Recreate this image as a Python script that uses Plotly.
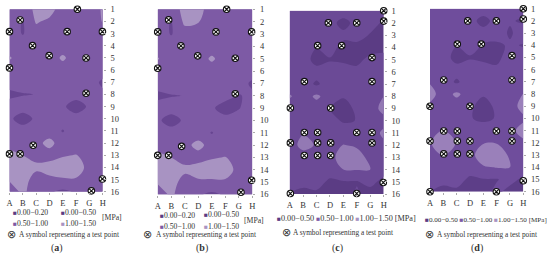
import plotly.graph_objects as go

rows = list(range(1, 17))
cols = ["A", "B", "C", "D", "E", "F", "G", "H"]

# pressure grids [MPa], one row per test row 1-16, columns A-H
panel_a = [
    [.75, .75, 1.1, 1.2, .75, .75, .75, 1.05],
    [.75, .47, 1.05, .9, .75, .75, .75, 1.02],
    [.75, .47, .8, .75, .75, .75, .75, .85],
    [.75, .75, .75, .75, .75, .75, .75, .75],
    [1.05, .75, .75, .75, 1.08, .75, .47, .75],
    [.75, .75, .75, .75, .75, .75, .75, .75],
    [.75, .75, .75, .75, .75, .75, .75, .4],
    [.36, .47, .51, .75, .75, .75, .75, .6],
    [.75, .75, .75, .75, .6, .2, .6, .75],
    [.6, .25, .6, .75, .75, .75, .75, .75],
    [.75, .75, .75, .75, .47, .75, .75, .75],
    [.75, .75, .85, 1.15, .75, .75, .75, .75],
    [1.2, 1.0, .85, .8, .95, 1.02, .8, .75],
    [1.3, 1.2, 1.1, 1.2, 1.3, 1.3, .8, .75],
    [1.05, 1.2, .8, .9, .95, .95, .75, .75],
    [.75, 1.1, .75, .55, .4, .55, .75, .75],
]
panel_b = [
    [.75, .75, 1.15, 1.15, .8, .75, .75, 1.02],
    [.75, .47, 1.1, 1.02, .75, .75, .75, .75],
    [.75, .47, .8, .85, .75, .75, .75, .75],
    [.75, .75, .75, .75, .75, .75, .75, .75],
    [1.03, .75, .75, .75, 1.08, .75, .75, .75],
    [.75, .75, .75, .75, .75, .75, .75, .75],
    [.75, .75, .75, .75, .75, .75, .75, .4],
    [.36, .47, .51, .75, .75, .75, .47, .6],
    [.75, .75, .75, .75, .6, .2, .47, .75],
    [.6, .25, .6, .75, .75, .75, .75, .75],
    [.75, .75, .75, .75, .47, .75, .75, .75],
    [.75, .75, .85, 1.15, .8, .75, .75, .75],
    [1.2, 1.0, .85, .8, .95, 1.02, .8, .75],
    [1.3, 1.25, 1.1, 1.25, 1.3, 1.3, .8, .75],
    [1.05, 1.2, .8, .9, .9, .9, .75, .75],
    [.75, 1.08, .75, .55, .4, .55, .75, .75],
]
panel_c = [
    [.75, .75, .75, .75, .83, .75, .75, .7],
    [.75, .75, .75, .7, .3, .7, .75, .4],
    [.75, .75, .75, .75, .65, .75, .45, .4],
    [.75, .75, .52, .75, .3, .3, .35, .3],
    [.75, .75, .3, .45, .4, .4, .6, .75],
    [.75, .75, .7, .75, .75, .6, .75, .75],
    [.75, .75, .42, .75, .75, .75, .75, .75],
    [1.05, .75, 1.1, .75, .56, .75, .75, 1.0],
    [.75, .75, .75, .47, .2, .65, .75, 1.17],
    [.75, .75, .75, .65, .45, .51, .75, .84],
    [.75, .94, .75, .75, .75, .75, .75, 1.1],
    [.6, 1.3, .92, .75, 1.02, .9, .75, .9],
    [.75, .6, .75, .8, 1.3, 1.3, .8, .75],
    [.75, .75, .75, .75, 1.0, 1.02, 1.0, .7],
    [.75, .7, .7, .4, .47, .47, .65, .35],
    [.45, .3, .4, .2, .3, .55, .3, .3],
]
panel_d = [
    [.75, .75, .75, .75, .8, .75, .75, .75],
    [.75, .75, .75, .7, .3, .7, .57, .4],
    [.75, .75, .75, .75, .7, .85, .4, .85],
    [.75, .75, .52, .75, .45, .35, .6, .45],
    [.75, .75, .3, .45, .35, .35, .75, .75],
    [.75, .75, .7, .75, .75, .6, .75, .75],
    [.95, .75, .43, .75, .75, .75, .75, .75],
    [1.2, .75, 1.1, .75, .58, .75, .75, 1.02],
    [.9, .75, .75, .65, .2, .65, .75, 1.2],
    [.75, .75, .75, .53, .4, .53, .75, .9],
    [.75, 1.02, .75, .75, .75, .75, .85, 1.2],
    [.96, 1.3, .97, .75, .97, .97, .75, .9],
    [.75, 1.02, .75, .82, 1.3, 1.4, .9, .75],
    [.75, .75, .75, .75, .95, 1.02, 1.0, .75],
    [.75, .7, .7, .4, .47, .47, .65, .4],
    [.5, .3, .4, .2, .35, .6, .35, .3],
]

# test points as (column position, row position)
points_a = [(5.1, 1), (.8, 1.88), (0, 2.84), (4.33, 2.84), (6.98, 2.84), (1.73, 3.99), (2.98, 4.81), (5.75, 5),
            (0, 5.82), (5.75, 7.9), (1.78, 12.18), (0, 12.89), (.8, 12.89), (6.98, 14.95), (6.15, 15.93)]
points_b = [(5.1, 1), (.81, 1.86), (0, 2.83), (4.31, 2.83), (6.95, 2.83), (1.72, 3.96), (2.96, 4.77), (5.74, 4.96),
            (0, 5.77), (5.74, 7.85), (1.77, 12.1), (0, 12.83), (.81, 12.83), (6.95, 14.85), (6.16, 15.82)]
points_c = [(7, 1), (7, 1.85), (2.88, 2), (4.99, 2), (2.08, 3.86), (3.87, 3.86), (6.13, 4.84), (1.09, 6.8), (6.13, 6.8),
            (.05, 8.96), (3.05, 8.96), (1.09, 10.97), (2.08, 10.97), (4.99, 10.97), (6.13, 10.97), (.05, 11.82),
            (2.08, 11.82), (3.05, 11.82), (6.13, 11.82), (1.09, 12.85), (2.08, 12.85), (3.05, 12.85), (6.97, 15.06),
            (.05, 15.96), (4.99, 15.96)]
points_d = [(7, 1), (7, 1.85), (2.83, 2), (4.98, 2), (2.05, 3.9), (3.85, 3.9), (6.15, 4.85), (1.03, 6.85), (6.15, 6.85),
            (0, 9), (3, 9), (1.03, 11.03), (2.05, 11.03), (4.98, 11.03), (6.15, 11.03), (0, 11.85), (2.05, 11.85),
            (3, 11.85), (6.15, 11.85), (1.03, 12.9), (2.05, 12.9), (3, 12.9), (7, 15.1), (0, 16), (4.98, 16)]

W, H = 550, 257
panels = [
    dict(z=panel_a, pts=points_a, box=(9.5, 102.7, 9.3, 191.7), mid="#7d5aa5", dark="#674591", light="#a893c2", nm=""),
    dict(z=panel_b, pts=points_b, box=(157.7, 252.3, 9.3, 194.5), mid="#7d5aa5", dark="#674591", light="#a893c2", nm="2"),
    dict(z=panel_c, pts=points_c, box=(289.7, 383.7, 10.7, 194), mid="#6b4a96", dark="#5b3c84", light="#9379b4", nm="3"),
    dict(z=panel_d, pts=points_d, box=(430, 523.3, 8.7, 191.7), mid="#6f4d9c", dark="#5d3e88", light="#9a80ba", nm="4"),
]

fig = go.Figure()
tickfont = dict(family="Liberation Serif", size=8.5, color="#333333")
for p in panels:
    x0, x1, y0, y1 = p["box"]
    nm = p["nm"]
    scale = [[0, p["dark"]], [1 / 3, p["dark"]], [1 / 3, p["mid"]], [2 / 3, p["mid"]], [2 / 3, p["light"]], [1, p["light"]]]
    fig.add_trace(go.Contour(
        z=p["z"], x=list(range(8)), y=rows, zmin=0, zmax=1.5, autocolorscale=False, colorscale=scale, showscale=False,
        autocontour=False, contours=dict(start=.5, end=1, size=.5, coloring="fill", showlines=False),
        line=dict(width=0), xaxis="x" + nm, yaxis="y" + nm, hoverinfo="skip",
    ))
    fig.add_trace(go.Scatter(
        x=[a for a, _ in p["pts"]], y=[b for _, b in p["pts"]], mode="markers", cliponaxis=False,
        marker=dict(symbol="circle-x", size=6.5, color="white", line=dict(color="#111111", width=1.1)),
        xaxis="x" + nm, yaxis="y" + nm, showlegend=False, hoverinfo="skip",
    ))
    fig.update_layout(**{
        "xaxis" + nm: dict(domain=[x0 / W, x1 / W], range=[0, 7], tickvals=list(range(8)), ticktext=cols, showgrid=False,
                           zeroline=False, anchor="y" + nm, ticks="outside", ticklen=2, tickcolor="#aaaaaa", tickfont=tickfont,
                           showline=False, ticklabelstandoff=1, tickangle=0),
        "yaxis" + nm: dict(domain=[1 - y1 / H, 1 - y0 / H], range=[16, 1], tickvals=rows, showgrid=False, zeroline=False,
                           anchor="x" + nm, side="right", ticks="outside", ticklen=2, tickcolor="#aaaaaa", tickfont=tickfont,
                           showline=False, ticklabelstandoff=3),
    })


def note(x, y, text, size=7.7, anchor="left"):
    fig.add_annotation(x=x / W, y=1 - y / H, xref="paper", yref="paper", text=text, showarrow=False, xanchor=anchor,
                       yanchor="middle", borderpad=0, font=dict(family="Liberation Serif", size=size, color="#333333"))


def sq(color):
    return f'<span style="color:{color};font-size:6.5px">■</span>'


D, M, L = "#5b3c84", "#7d5aa5", "#a893c2"
note(12, 212.5, sq(D) + "0.00−0.20")
note(60, 212.5, sq(D) + "0.00−0.50")
note(12, 223.5, sq(M) + "0.50−1.00")
note(60, 223.5, sq(L) + "1.00−1.50")
note(100.5, 217.5, "[MPa]")
note(6, 234, "⊗", 11)
note(18, 234, "A symbol representing a test point", 7.3)

note(159, 215.5, sq(D) + "0.00−0.20")
note(203, 214.5, sq(D) + "0.00−0.50")
note(159, 226.5, sq(M) + "0.50−1.00")
note(203, 226, sq(L) + "1.00−1.50")
note(243, 220, "[MPa]")
note(142, 234, "⊗", 11)
note(155, 234, "A symbol representing a test point", 7.3)

legend_row = sq(D) + "0.00−0.50 " + sq(M) + "0.50−1.00 " + sq(L) + "1.00−1.50 [MPa]"
note(276, 218.5, legend_row, 8.2)
note(424, 220, legend_row, 7.1)
note(281, 232, "⊗", 11)
note(292, 232, "A symbol representing a test point", 7.3)
note(424, 234, "⊗", 11)
note(436, 234, "A symbol representing a test point", 7.3)
note(57, 248, "(<b>a</b>)", 10, "center")
note(202, 248, "(<b>b</b>)", 10, "center")
note(337, 248, "(<b>c</b>)", 10, "center")
note(477, 248, "(<b>d</b>)", 10, "center")

fig.update_layout(width=W, height=H, margin=dict(l=0, r=0, t=0, b=0, autoexpand=False), paper_bgcolor="white",
                  plot_bgcolor="white", showlegend=False)
fig.write_html("out.html", post_script="document.body.style.margin='0';", config=dict(displayModeBar=False))
